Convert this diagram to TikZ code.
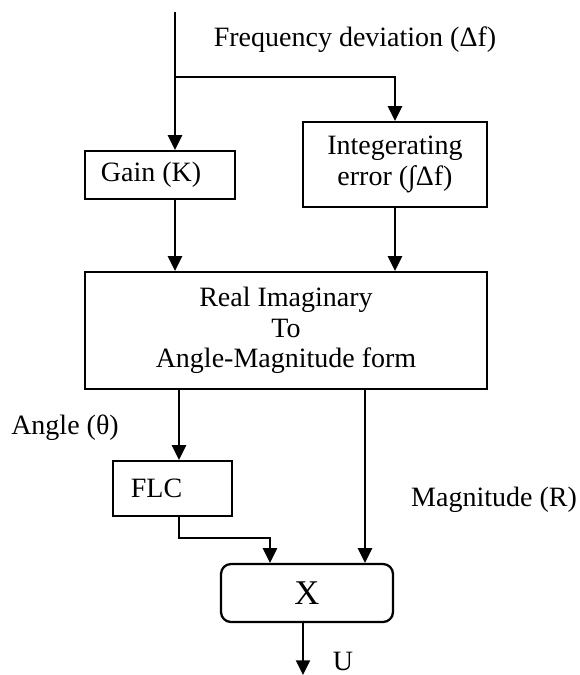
\documentclass[tikz,border=0pt]{standalone}
\usepackage{fontspec}
\setmainfont{Liberation Serif}
\usetikzlibrary{arrows.meta}
\begin{document}
\begin{tikzpicture}[x=0.75pt,y=-0.75pt,line width=1.7pt,
    >={Triangle[length=11pt,width=10.5pt]},
    font=\fontsize{21}{23}\selectfont]
      \useasboundingbox (0,0) rectangle (579,675);
      \def \Boxes {
        gain/160/175/150/48/13.5/{Gain (K)},
        integ/395/164.5/184/85/0/{Integerating\\error (∫Δf)},
        conv/286/330.5/402/117/0/{Real Imaginary\\To\\Angle-Magnitude form},
        flc/172.5/488.5/119/55/24/{FLC}}

      \foreach \id / \x / \y / \w / \h / \dx / \txt in \Boxes {
        \node[draw,align=center,inner sep=0pt,minimum width=\w*0.75pt,minimum height=\h*0.75pt] (\id) at (\x, \y) {\txt\hspace*{\dx pt}};
      }
      \node[draw,rounded corners=7.5pt,inner sep=0pt,minimum width=172*0.75pt,minimum height=58*0.75pt,
        font=\fontsize{26}{28}\selectfont] (mult) at (307,593) {X};

      \coordinate (in) at (175,12);
      \coordinate (split) at (175,77);
      \coordinate (ang) at (179,0);
      \coordinate (mag) at (365,0);
      \coordinate (flcin) at (270,0);
      \coordinate (out) at (303,675);

      \draw[->] (in) -- (in |- gain.north);
      \draw[->] (split) -| (integ.north);
      \draw[->] (in |- gain.south) -- (in |- conv.north);
      \draw[->] (integ.south) -- (integ.south |- conv.north);
      \draw[->] (ang |- conv.south) -- (ang |- flc.north);
      \draw[->] (ang |- flc.south) -- ++(0,21) -| (flcin |- mult.north);
      \draw[->] (mag |- conv.south) -- (mag |- mult.north);
      \draw[->] (out |- mult.south) -- (out);

      \node (freqlbl) at (355,40) {Frequency deviation (Δf)};
      \node (anglbl) at (65,428) {Angle (θ)};
      \node (maglbl) at (494,500) {Magnitude (R)};
      \node (ulbl) at (343,661) {U};
    \end{tikzpicture}
\end{document}
